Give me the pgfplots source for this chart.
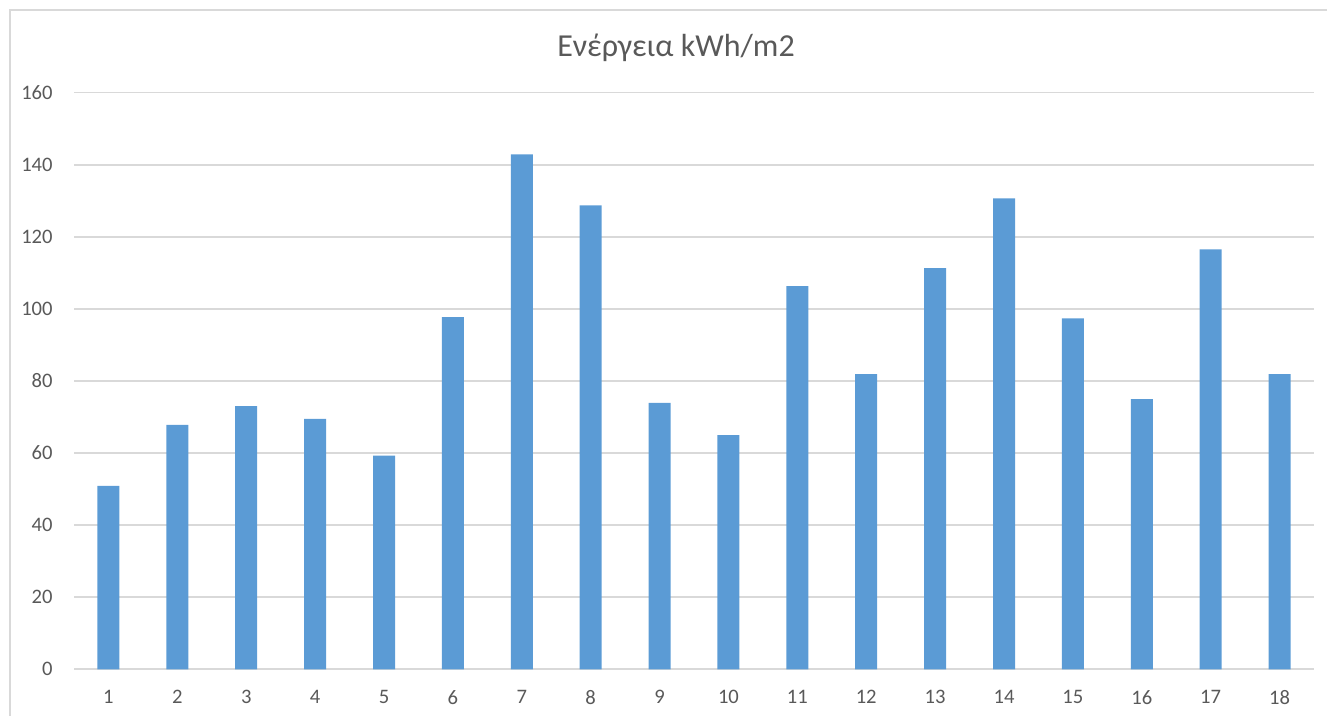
\documentclass[border=0pt]{standalone}
\usepackage{fontspec}
\setmainfont{Carlito}
\usepackage{pgfplots}
\pgfplotsset{compat=1.18}
\definecolor{barblue}{HTML}{5B9BD5}
\definecolor{gridgray}{HTML}{D9D9D9}
\definecolor{textgray}{HTML}{595959}

\begin{document}
\begin{tikzpicture}
  \path[use as bounding box] (0pt,0pt) rectangle (663.5pt,358pt);
  \draw[gridgray, line width=0.8pt] (5pt,0pt) -- (5pt,353pt) -- (663.5pt,353pt);
  \node[anchor=base, inner sep=0pt, text=textgray,
        font=\fontsize{16}{20}\selectfont] at (338pt,329.6pt) {Ενέργεια kWh/m2};
  \begin{axis}[
      at={(37pt,23.35pt)}, anchor=south west,
      width=620pt, height=288.3pt, scale only axis,
      ybar, bar width=11pt,
      xmin=0.5, xmax=18.5, ymin=0, ymax=160,
      xtick={1,...,18}, ytick={0,20,...,160},
      ymajorgrids=true, grid style={gridgray, line width=0.8pt},
      axis line style={draw=none},
      major tick length=0pt,
      tick label style={font=\fontsize{10.3}{12}\selectfont, text=textgray},
      /pgf/number format/assume math mode=true,
      yticklabel style={anchor=east, inner sep=0pt, xshift=-10.5pt},
      xticklabel style={anchor=north, inner sep=0pt, yshift=-10.3pt},
      clip=false,
    ]
    \addplot[fill=barblue, draw=none] coordinates {
      (1,50.9) (2,67.8) (3,73.0) (4,69.5) (5,59.3) (6,97.7)
      (7,142.9) (8,128.7) (9,73.9) (10,65.0) (11,106.3) (12,81.9)
      (13,111.3) (14,130.7) (15,97.4) (16,75.0) (17,116.5) (18,81.9)
    };
  \end{axis}
\end{tikzpicture}
\end{document}
